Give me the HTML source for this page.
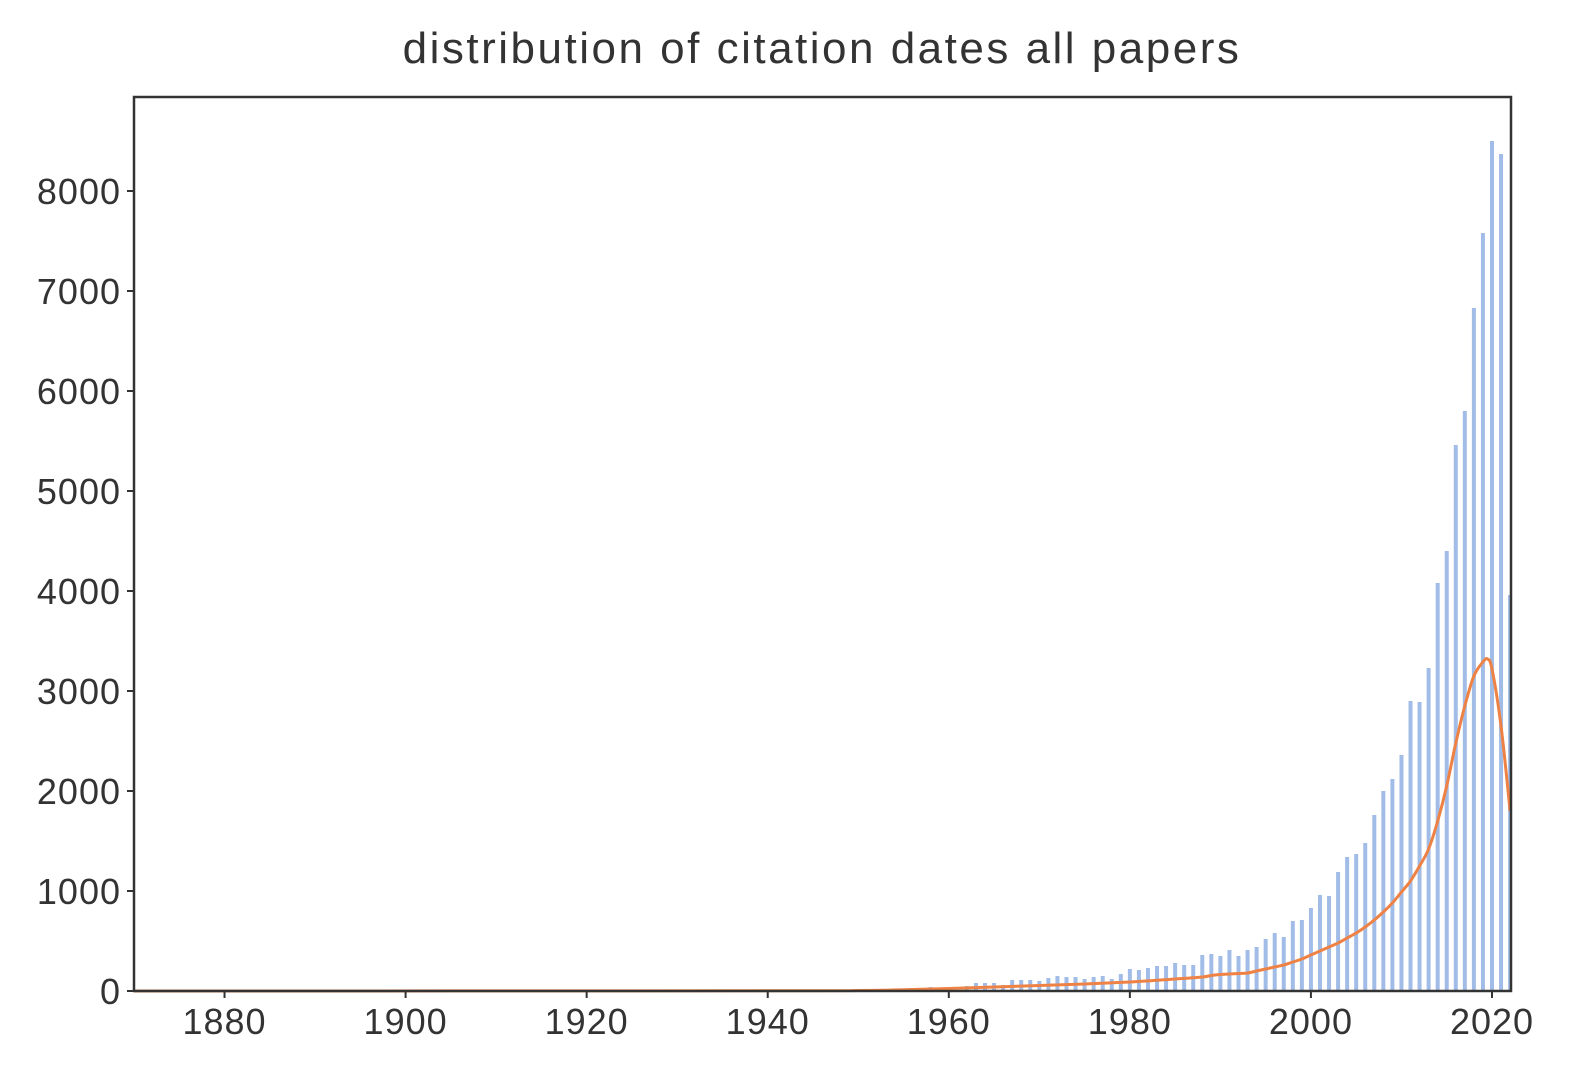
<!DOCTYPE html>
<html><head><meta charset="utf-8"><style>
html,body{margin:0;padding:0;background:#fff;}
svg text{font-family:"Liberation Sans",sans-serif;fill:#333;}
</style></head><body>
<svg width="1589" height="1084" xmlns="http://www.w3.org/2000/svg">
<text x="822" y="63" font-size="44" letter-spacing="2.5" text-anchor="middle">distribution of citation dates all papers</text>
<g id="bars"></g>
<g id="line"></g>
<rect x="134" y="97" width="1377" height="894" fill="none" stroke="#333" stroke-width="2.5"/>
<g id="xaxis"></g>
<g id="yaxis"></g>
</svg>
<script>
const barYears=[1956,1958,1960,1962,1963,1964,1965,1966,1967,1968,1969,1970,1971,1972,1973,1974,1975,1976,1977,1978,1979,1980,1981,1982,1983,1984,1985,1986,1987,1988,1989,1990,1991,1992,1993,1994,1995,1996,1997,1998,1999,2000,2001,2002,2003,2004,2005,2006,2007,2008,2009,2010,2011,2012,2013,2014,2015,2016,2017,2018,2019,2020,2021,2022];
const barValues=[30,40,30,50,80,80,80,60,110,110,110,100,130,150,140,140,120,140,150,120,170,220,210,230,250,250,280,260,260,360,370,350,410,350,410,440,520,580,540,700,710,830,960,950,1190,1340,1370,1480,1760,2000,2120,2360,2900,2890,3230,4080,4400,5460,5800,6830,7580,8500,8370,3960];
const lineYears=[1870,1940,1950,1955,1960,1965,1970,1975,1980,1985,1988,1989,1990,1991,1992,1993,1994,1995,1996,1997,1998,1999,2000,2001,2002,2003,2004,2005,2006,2007,2008,2009,2010,2011,2012,2013,2014,2015,2016,2017,2018,2019,2019.5,2020,2021,2022];
const lineValues=[0,2,5,12,25,40,55,70,90,120,140,155,165,170,175,180,200,220,240,260,290,320,360,400,440,480,530,580,640,710,790,880,990,1100,1250,1420,1700,2050,2480,2850,3150,3290,3320,3220,2650,1800];
const xTicks=[1880,1900,1920,1940,1960,1980,2000,2020];
const yTicks=[0,1000,2000,3000,4000,5000,6000,7000,8000];
const NS="http://www.w3.org/2000/svg";
const X0=134,X1=1511,Y0=991,Y1=97,xmin=1870,xmax=2022.1,ymin=0,ymax=8940;
const xs=v=>X0+(v-xmin)/(xmax-xmin)*(X1-X0);
const ys=v=>Y0-(v-ymin)/(ymax-ymin)*(Y0-Y1);
function mk(t,a,p){const e=document.createElementNS(NS,t);for(const k in a)e.setAttribute(k,a[k]);p.appendChild(e);return e;}
const bg=document.getElementById('bars');
barYears.forEach((yr,i)=>{
  const x=xs(yr)-2, w=Math.min(4,X1-x);
  const r=mk('rect',{x:x,y:ys(barValues[i]),width:Math.max(w,0),height:Y0-ys(barValues[i]),fill:'#a2bce8'},bg);
  
  
});
const lg=document.getElementById('line');
let d='';
const pts=lineYears.map((yr,i)=>[xs(yr),ys(lineValues[i])]);
d='M'+pts[0][0]+','+pts[0][1];
for(let i=0;i<pts.length-1;i++){
  const p0=pts[Math.max(i-1,0)],p1=pts[i],p2=pts[i+1],p3=pts[Math.min(i+2,pts.length-1)];
  const c1=[p1[0]+(p2[0]-p0[0])/6,p1[1]+(p2[1]-p0[1])/6];
  const c2=[p2[0]-(p3[0]-p1[0])/6,p2[1]-(p3[1]-p1[1])/6];
  d+='C'+c1[0].toFixed(1)+','+c1[1].toFixed(1)+' '+c2[0].toFixed(1)+','+c2[1].toFixed(1)+' '+p2[0].toFixed(1)+','+p2[1].toFixed(1);
}
const p=mk('path',{d:d,fill:'none',stroke:'#ee8245','stroke-width':3,'stroke-linejoin':'round'},lg);


const xa=document.getElementById('xaxis');
xTicks.forEach(t=>{
  const x=xs(t);
  mk('line',{x1:x,x2:x,y1:Y0,y2:Y0+7,stroke:'#333','stroke-width':2},xa);
  const tx=mk('text',{x:x,y:Y0+43,'font-size':36,'letter-spacing':1,'text-anchor':'middle'},xa);
  tx.textContent=t;
  
  
});
const ya=document.getElementById('yaxis');
yTicks.forEach(t=>{
  const y=ys(t);
  mk('line',{x1:X0-7,x2:X0,y1:y,y2:y,stroke:'#333','stroke-width':2},ya);
  const tx=mk('text',{x:X0-13,y:y+13,'font-size':36,'letter-spacing':1,'text-anchor':'end'},ya);
  tx.textContent=t;
  
  
});
</script>
</body></html>
